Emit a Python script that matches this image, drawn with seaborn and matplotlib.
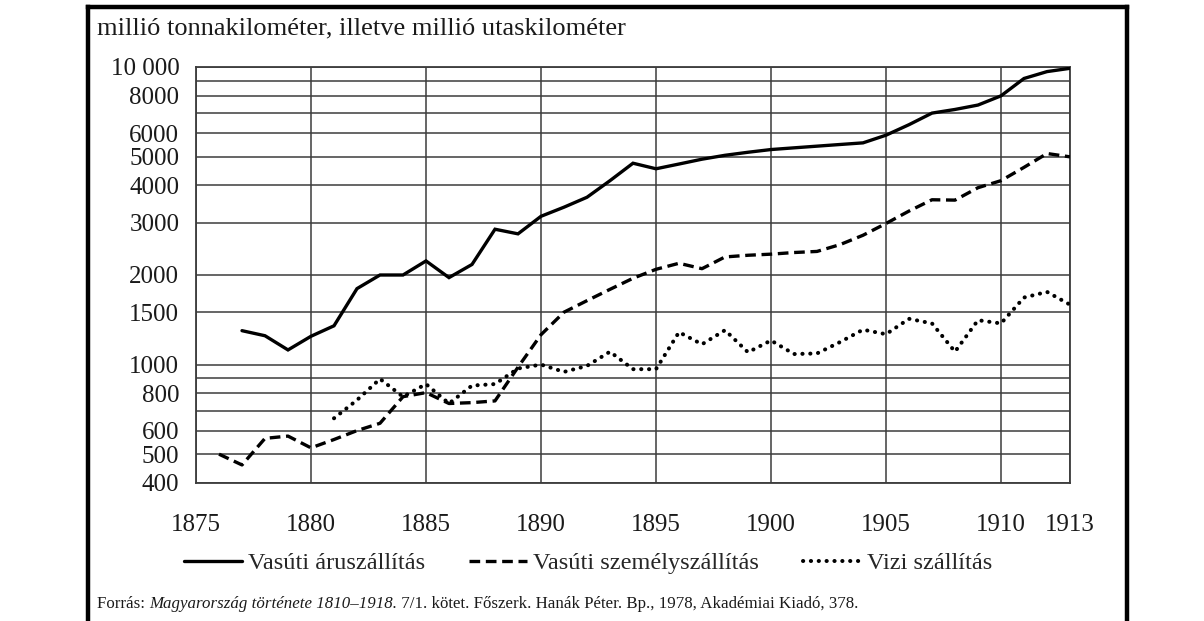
import numpy as np
import pandas as pd
import matplotlib
matplotlib.use("Agg")
import matplotlib.pyplot as plt
from matplotlib.lines import Line2D
from matplotlib.ticker import FixedLocator, FixedFormatter, NullFormatter
import seaborn as sns

# data (log scale)
freight_years = list(range(1877, 1914))
freight = [1300, 1250, 1120, 1245, 1350, 1800, 2000, 2000, 2230, 1960,
           2170, 2850, 2750, 3150, 3380, 3650, 4150, 4750, 4550, 4720,
           4900, 5050, 5170, 5280, 5350, 5420, 5490, 5560, 5900, 6400,
           7000, 7200, 7450, 8000, 9150, 9650, 9900]

passenger_years = list(range(1876, 1914))
passenger = [500, 460, 565, 575, 525, 560, 600, 635, 780, 805,
             740, 745, 755, 980, 1260, 1500, 1640, 1790, 1950, 2090,
             2190, 2100, 2300, 2330, 2350, 2380, 2400, 2530, 2720, 2980,
             3280, 3580, 3570, 3930, 4150, 4600, 5120, 4990]

water_years = list(range(1881, 1914))
water = [660, 760, 895, 780, 860, 740, 850, 860, 970, 1000,
         945, 990, 1105, 965, 965, 1285, 1170, 1305, 1100, 1205,
         1085, 1090, 1190, 1310, 1265, 1425, 1375, 1105, 1410, 1375,
         1680, 1755, 1590]

labels = ["Vasúti áruszállítás", "Vasúti személyszállítás", "Vizi szállítás"]

x_ticks = [1875, 1880, 1885, 1890, 1895, 1900, 1905, 1910, 1913]
y_ticks = [400, 500, 600, 800, 1000, 1500, 2000, 3000, 4000, 5000, 6000, 8000, 10000]
y_tick_labels = ["400", "500", "600", "800", "1000", "1500", "2000", "3000",
                 "4000", "5000", "6000", "8000", "10 000"]
y_minor = [700, 900, 7000, 9000]

title = "millió tonnakilométer, illetve millió utaskilométer"
source = ["Forrás: ", "Magyarország története 1810–1918.",
          " 7/1. kötet. Főszerk. Hanák Péter. Bp., 1978, Akadémiai Kiadó, 378."]

sns.set_theme(style="white")
plt.rcParams["font.family"] = ["Liberation Serif", "DejaVu Serif"]

W, H = 1204, 621
fig = plt.figure(figsize=(W / 100, H / 100), dpi=100)
fig.patch.set_facecolor("white")
ax = fig.add_axes([196 / W, 1 - 483 / H, (1070 - 196) / W, (483 - 67) / H])

grid_col = "#3c3c3c"
df_f = pd.DataFrame({"ev": freight_years, "ertek": freight})
df_p = pd.DataFrame({"ev": passenger_years, "ertek": passenger})
df_w = pd.DataFrame({"ev": water_years, "ertek": water})

sns.lineplot(data=df_f, x="ev", y="ertek", ax=ax, color="black", lw=2.4,
             solid_joinstyle="miter", label=labels[0], legend=False, zorder=5)
sns.lineplot(data=df_p, x="ev", y="ertek", ax=ax, color="black", lw=2.4,
             linestyle=(0, (3.2, 1.7)), label=labels[1], legend=False, zorder=5)
sns.lineplot(data=df_w, x="ev", y="ertek", ax=ax, color="black", lw=2.9,
             linestyle=(0, (0.05, 1.9)), dash_capstyle="round",
             label=labels[2], legend=False, zorder=5)

ax.set_yscale("log")
ax.set_ylim(400, 10000)
ax.set_xlim(1875, 1913)
ax.yaxis.set_major_locator(FixedLocator(y_ticks))
ax.yaxis.set_major_formatter(FixedFormatter(y_tick_labels))
ax.yaxis.set_minor_locator(FixedLocator(y_minor))
ax.yaxis.set_minor_formatter(NullFormatter())
ax.set_xticks(x_ticks)
ax.set_xticklabels([str(t) for t in x_ticks])
ax.grid(True, which="both", color=grid_col, lw=1.1)
ax.tick_params(axis="both", which="both", length=0, labelsize=18, colors="#1a1a1a")
ax.tick_params(axis="y", pad=12)
ax.tick_params(axis="x", pad=22)
ax.set_xlabel("")
ax.set_ylabel("")
for s in ax.spines.values():
    s.set_visible(True)
    s.set_color(grid_col)
    s.set_linewidth(1.3)

# outer frame
fx0, fx1, fy = 88 / W, 1127 / W, 1 - 7 / H
for xs, ys in [([fx0, fx0], [0, fy]), ([fx1, fx1], [0, fy]), ([fx0, fx1], [fy, fy])]:
    fig.add_artist(Line2D(xs, ys, transform=fig.transFigure, color="black",
                          lw=3.2, solid_capstyle="projecting"))

fig.text(97 / W, 1 - 28 / H, title, fontsize=19, va="center", ha="left", color="#1a1a1a")

handles, lab = ax.get_legend_handles_labels()
fig.legend(handles, lab, loc="center", bbox_to_anchor=(588 / W, 1 - 563 / H), ncol=3,
           frameon=False, fontsize=17.5, handlelength=2.4, handletextpad=0.25,
           columnspacing=1.8)

# source line with italic book title
renderer = fig.canvas.get_renderer()
x = 97 / W
for i, piece in enumerate(source):
    t = fig.text(x, 1 - 604 / H, piece, fontsize=12.2, va="center", ha="left",
                 style="italic" if i == 1 else "normal", color="#1a1a1a")
    bb = t.get_window_extent(renderer=renderer)
    x = bb.x1 / W

fig.savefig("out.png", dpi=100, facecolor="white")
